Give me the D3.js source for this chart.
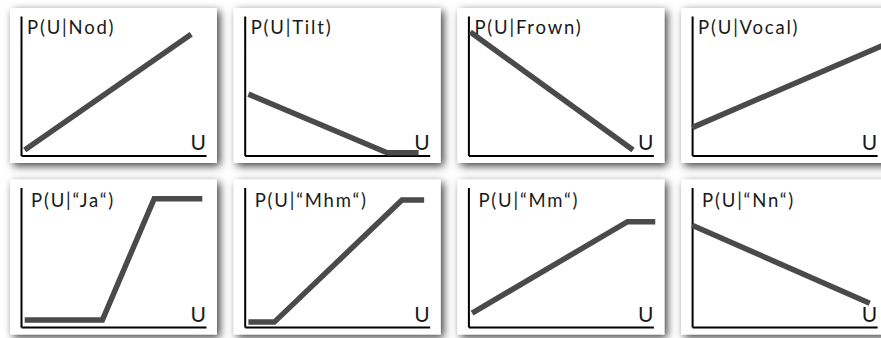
<!DOCTYPE html>
<html>
<head>
<meta charset="utf-8">
<script src="https://cdn.jsdelivr.net/npm/d3@7"></script>
<style>
  html, body { margin: 0; padding: 0; background: #fff; }
  svg { display: block; }
  .title { font-family: Lato, "Open Sans", sans-serif; font-size: 18.5px; letter-spacing: 1.8px; fill: #1a1a1a; }
  .ulabel { font-family: Lato, "Open Sans", sans-serif; font-size: 21px; fill: #1a1a1a; }
  .axis path { stroke: #000; stroke-width: 2; }
</style>
</head>
<body>
<script>
// one panel per cue, [U, P] pairs
var titles = ['P(U|Nod)', 'P(U|Tilt)', 'P(U|Frown)', 'P(U|Vocal)',
              'P(U|\u201cJa\u201c)', 'P(U|\u201cMhm\u201c)', 'P(U|\u201cMm\u201c)', 'P(U|\u201cNn\u201c)'];
var xLabel = 'U';

var nod   = [[0.02, 0.04], [0.92, 0.87]];
var tilt  = [[0.02, 0.44], [0.77, 0.02], [0.94, 0.02]];
var frown = [[0.01, 0.885], [0.89, 0.04]];
var vocal = [[0.00, 0.20], [1.05, 0.80]];
var ja    = [[0.02, 0.05], [0.44, 0.05], [0.72, 0.92], [0.98, 0.92]];
var mhm   = [[0.02, 0.035], [0.16, 0.035], [0.85, 0.91], [0.97, 0.91]];
var mm    = [[0.02, 0.10], [0.86, 0.755], [1.01, 0.755]];
var nn    = [[0.00, 0.73], [0.96, 0.17]];

var curves = [nod, tilt, frown, vocal, ja, mhm, mm, nn];

var W = 881, H = 338;
var plotW = 185, plotH = 139.5;
var colStep = 223.7, rowStep = 171.5;
var x0 = 21, y0 = 155.5;

var svg = d3.select('body').append('svg')
    .attr('width', W)
    .attr('height', H);

var defs = svg.append('defs');
var shadow = defs.append('filter')
    .attr('id', 'shadow')
    .attr('x', '-20%').attr('y', '-20%')
    .attr('width', '140%').attr('height', '140%');
shadow.append('feDropShadow')
    .attr('dx', 3).attr('dy', 3)
    .attr('stdDeviation', 4.5)
    .attr('flood-color', '#000')
    .attr('flood-opacity', 0.75);

var line = d3.line();

curves.forEach(function(pts, i) {
    var col = i % 4, row = Math.floor(i / 4);
    var ox = x0 + col * colStep,
        oy = y0 + row * rowStep;

    var x = d3.scaleLinear().domain([0, 1]).range([ox, ox + plotW]);
    var y = d3.scaleLinear().domain([0, 1]).range([oy, oy - plotH]);

    var g = svg.append('g').attr('class', 'panel');

    // white card with a soft shadow
    g.append('rect')
        .attr('x', ox - 11)
        .attr('y', oy - 147.5)
        .attr('width', 207)
        .attr('height', 155)
        .attr('fill', '#fff')
        .attr('filter', 'url(#shadow)');

    g.append('g')
        .attr('class', 'axis')
        .attr('transform', 'translate(0,' + oy + ')')
        .call(d3.axisBottom(x).ticks(0).tickSizeOuter(0));

    g.append('g')
        .attr('class', 'axis')
        .attr('transform', 'translate(' + ox + ',0)')
        .call(d3.axisLeft(y).ticks(0).tickSizeOuter(0));

    g.append('path')
        .datum(pts)
        .attr('d', line.x(function(d) { return x(d[0]); }).y(function(d) { return y(d[1]); }))
        .attr('fill', 'none')
        .attr('stroke', '#4a4a4a')
        .attr('stroke-width', 5.5)
        .attr('stroke-linejoin', 'miter');

    g.append('text')
        .attr('class', 'title')
        .attr('x', ox + (row ? 10 : 6))
        .attr('y', oy - plotH + (row ? 19.5 : 17.5))
        .text(titles[i]);

    g.append('text')
        .attr('class', 'ulabel')
        .attr('x', ox + plotW)
        .attr('y', oy - 5.5)
        .attr('text-anchor', 'end')
        .text(xLabel);
});
</script>
</body>
</html>
